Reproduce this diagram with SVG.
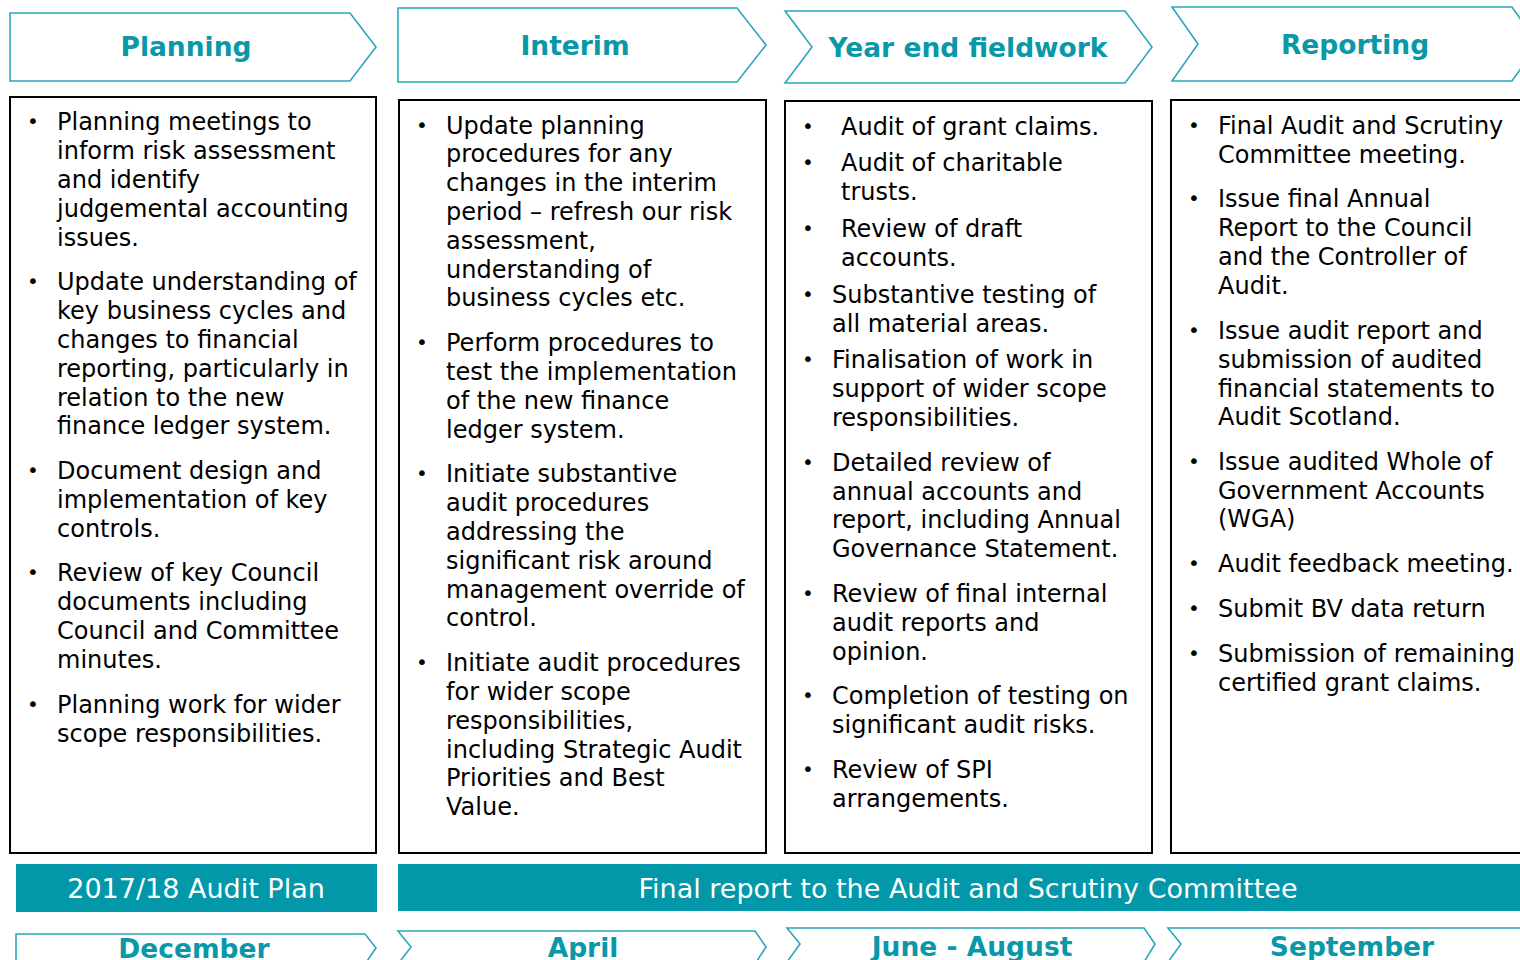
<svg xmlns="http://www.w3.org/2000/svg" width="1520" height="960" viewBox="0 0 1520 960">
<style>
.hdr{fill:#fff;stroke:#2aa8b8;stroke-width:1.6}
.ht{font-family:"DejaVu Sans",Verdana,sans-serif;font-weight:bold;font-size:26.5px;fill:#0898a8;text-anchor:middle}
.box{fill:#fff;stroke:#000;stroke-width:2}
.tx{font-family:"DejaVu Sans",Verdana,sans-serif;font-size:24px;fill:#000}
.bl{font-family:"DejaVu Sans",Verdana,sans-serif;font-size:20px;fill:#000;text-anchor:middle}
.bar{fill:#0298a9}
.bt{font-family:"DejaVu Sans",Verdana,sans-serif;font-size:27px;fill:#fff;text-anchor:middle}
</style>
<rect width="1520" height="960" fill="#fff"/>
<g id="connectors"></g>

<g id="planning">
<polygon class="hdr" points="10,13 350,13 376,47 350,81 10,81"/>
<text class="ht" x="186" y="56">Planning</text>
<rect class="box" x="10" y="97" width="366" height="756"/>
<g class="bl"><text x="33" y="128">•</text><text x="33" y="288">•</text><text x="33" y="477">•</text><text x="33" y="579">•</text><text x="33" y="711">•</text></g>
<g class="tx">
<text x="57" y="130">Planning meetings to</text>
<text x="57" y="159">inform risk assessment</text>
<text x="57" y="188">and identify</text>
<text x="57" y="217">judgemental accounting</text>
<text x="57" y="246">issues.</text>
<text x="57" y="290">Update understanding of</text>
<text x="57" y="319">key business cycles and</text>
<text x="57" y="348">changes to financial</text>
<text x="57" y="377">reporting, particularly in</text>
<text x="57" y="406">relation to the new</text>
<text x="57" y="434">finance ledger system.</text>
<text x="57" y="479">Document design and</text>
<text x="57" y="508">implementation of key</text>
<text x="57" y="537">controls.</text>
<text x="57" y="581">Review of key Council</text>
<text x="57" y="610">documents including</text>
<text x="57" y="639">Council and Committee</text>
<text x="57" y="668">minutes.</text>
<text x="57" y="713">Planning work for wider</text>
<text x="57" y="742">scope responsibilities.</text>
</g>
</g>

<g id="interim">
<polygon class="hdr" points="398,8 737,8 766,45 737,82 398,82"/>
<text class="ht" x="575" y="55">Interim</text>
<rect class="box" x="399" y="100" width="367" height="753"/>
<g class="bl"><text x="422" y="132">•</text><text x="422" y="349">•</text><text x="422" y="480">•</text><text x="422" y="669">•</text></g>
<g class="tx">
<text x="446" y="134">Update planning</text>
<text x="446" y="162">procedures for any</text>
<text x="446" y="191">changes in the interim</text>
<text x="446" y="220">period – refresh our risk</text>
<text x="446" y="249">assessment,</text>
<text x="446" y="278">understanding of</text>
<text x="446" y="306">business cycles etc.</text>
<text x="446" y="351">Perform procedures to</text>
<text x="446" y="380">test the implementation</text>
<text x="446" y="409">of the new finance</text>
<text x="446" y="438">ledger system.</text>
<text x="446" y="482">Initiate substantive</text>
<text x="446" y="511">audit procedures</text>
<text x="446" y="540">addressing the</text>
<text x="446" y="569">significant risk around</text>
<text x="446" y="598">management override of</text>
<text x="446" y="626">control.</text>
<text x="446" y="671">Initiate audit procedures</text>
<text x="446" y="700">for wider scope</text>
<text x="446" y="729">responsibilities,</text>
<text x="446" y="758">including Strategic Audit</text>
<text x="446" y="786">Priorities and Best</text>
<text x="446" y="815">Value.</text>
</g>
</g>

<g id="yearend">
<polygon class="hdr" points="785,11 1125,11 1152,47 1125,83 785,83 812,47"/>
<text class="ht" x="968" y="57">Year end fieldwork</text>
<rect class="box" x="785" y="101" width="367" height="752"/>
<g class="bl"><text x="808" y="133">•</text><text x="808" y="169">•</text><text x="808" y="235">•</text><text x="808" y="301">•</text><text x="808" y="366">•</text><text x="808" y="469">•</text><text x="808" y="600">•</text><text x="808" y="702">•</text><text x="808" y="776">•</text></g>
<g class="tx">
<text x="841" y="135">Audit of grant claims.</text>
<text x="841" y="171">Audit of charitable</text>
<text x="841" y="200">trusts.</text>
<text x="841" y="237">Review of draft</text>
<text x="841" y="266">accounts.</text>
<text x="832" y="303">Substantive testing of</text>
<text x="832" y="332">all material areas.</text>
<text x="832" y="368">Finalisation of work in</text>
<text x="832" y="397">support of wider scope</text>
<text x="832" y="426">responsibilities.</text>
<text x="832" y="471">Detailed review of</text>
<text x="832" y="500">annual accounts and</text>
<text x="832" y="528">report, including Annual</text>
<text x="832" y="557">Governance Statement.</text>
<text x="832" y="602">Review of final internal</text>
<text x="832" y="631">audit reports and</text>
<text x="832" y="660">opinion.</text>
<text x="832" y="704">Completion of testing on</text>
<text x="832" y="733">significant audit risks.</text>
<text x="832" y="778">Review of SPI</text>
<text x="832" y="807">arrangements.</text>
</g>
</g>

<g id="reporting">
<polygon class="hdr" points="1172,7 1512,7 1538,44 1512,81 1172,81 1198,44"/>
<text class="ht" x="1355" y="54">Reporting</text>
<rect class="box" x="1171" y="100" width="370" height="753"/>
<g class="bl"><text x="1194" y="132">•</text><text x="1194" y="205">•</text><text x="1194" y="337">•</text><text x="1194" y="468">•</text><text x="1194" y="570">•</text><text x="1194" y="615">•</text><text x="1194" y="660">•</text></g>
<g class="tx">
<text x="1218" y="134">Final Audit and Scrutiny</text>
<text x="1218" y="163">Committee meeting.</text>
<text x="1218" y="207">Issue final Annual</text>
<text x="1218" y="236">Report to the Council</text>
<text x="1218" y="265">and the Controller of</text>
<text x="1218" y="294">Audit.</text>
<text x="1218" y="339">Issue audit report and</text>
<text x="1218" y="368">submission of audited</text>
<text x="1218" y="397">financial statements to</text>
<text x="1218" y="425">Audit Scotland.</text>
<text x="1218" y="470">Issue audited Whole of</text>
<text x="1218" y="499">Government Accounts</text>
<text x="1218" y="527">(WGA)</text>
<text x="1218" y="572">Audit feedback meeting.</text>
<text x="1218" y="617">Submit BV data return</text>
<text x="1218" y="662">Submission of remaining</text>
<text x="1218" y="691">certified grant claims.</text>
</g>
</g>

<g id="bar-plan">
<rect class="bar" x="16" y="864" width="361" height="48"/>
<text class="bt" x="196" y="898">2017/18 Audit Plan</text>
</g>
<g id="bar-final">
<rect class="bar" x="398" y="864" width="1130" height="47"/>
<text class="bt" x="968" y="898">Final report to the Audit and Scrutiny Committee</text>
</g>

<g id="month-december">
<polygon class="hdr" points="16,934 365,934 376,948 365,964 16,964"/>
<text class="ht" x="194" y="958">December</text>
</g>
<g id="month-april">
<polygon class="hdr" points="398,931 755,931 766,947 755,964 398,964 411,947"/>
<text class="ht" x="583" y="957">April</text>
</g>
<g id="month-june">
<polygon class="hdr" points="787,928 1144,928 1155,944 1144,962 787,962 800,944"/>
<text class="ht" x="972" y="956">June - August</text>
</g>
<g id="month-september">
<polygon class="hdr" points="1168,928 1530,928 1530,962 1168,962 1181,944"/>
<text class="ht" x="1352" y="956">September</text>
</g>
</svg>
